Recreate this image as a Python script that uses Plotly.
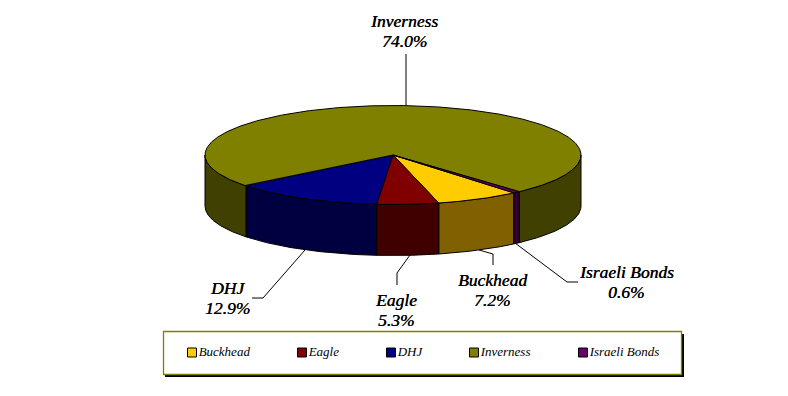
import math
import plotly.graph_objects as go

# Data
categories = ["Buckhead", "Eagle", "DHJ", "Inverness", "Israeli Bonds"]
shares = [7.2, 5.3, 12.9, 74.0, 0.6]
percent_labels = ["7.2%", "5.3%", "12.9%", "74.0%", "0.6%"]

# Styles
top_colors = ["#FFCC00", "#800000", "#000080", "#808000", "#660066"]
side_colors = ["#806000", "#400000", "#000040", "#404000", "#330033"]
FONT = "Liberation Serif"

# Pie geometry (pixel axes)
CX, CY, RX, RY, DEPTH = 393, 155, 188, 49.5, 51
START = 50.0  # degrees clockwise from 3 o'clock, on the ellipse


def pt(t, dy=0.0):
    a = math.radians(t)
    return CX + RX * math.cos(a), CY + RY * math.sin(a) + dy


def arc(t1, t2, dy=0.0):
    n = max(2, int(abs(t2 - t1)) * 2)
    return [pt(t1 + (t2 - t1) * i / n, dy) for i in range(n + 1)]


total = sum(shares)
spans = []
a = START
for s in shares:
    b = a + 360 * s / total
    spans.append((a, b))
    a = b

fig = go.Figure()


def poly(points, color, name):
    xs = [p[0] for p in points] + [points[0][0]]
    ys = [p[1] for p in points] + [points[0][1]]
    fig.add_trace(go.Scatter(x=xs, y=ys, mode="lines", fill="toself", fillcolor=color,
                             line=dict(color="black", width=1), name=name,
                             showlegend=False, hoverinfo="name"))


# Visible side walls: front half of the ellipse only (t in 0..180, or 360..540)
for cat, (a, b), col in zip(categories, spans, side_colors):
    for lo, hi in ((0, 180), (360, 540)):
        s, e = max(a, lo), min(b, hi)
        if e > s:
            poly(arc(s, e) + arc(e, s, DEPTH), col, cat + " side")

# Top faces
for cat, (a, b), col in zip(categories, spans, top_colors):
    poly([(CX, CY)] + arc(a, b), col, cat)

# Leader lines
leaders = [
    [(406, 54), (406, 105)],
    [(305, 250), (263, 298), (252, 298)],
    [(410, 255), (397, 273), (397, 285)],
    [(479, 250), (493, 254), (493, 265)],
    [(515, 243), (567, 282), (578, 282)],
]
for ln in leaders:
    fig.add_trace(go.Scatter(x=[p[0] for p in ln], y=[p[1] for p in ln], mode="lines",
                             line=dict(color="black", width=1), showlegend=False, hoverinfo="skip"))

# Slice labels
label_pos = {"Inverness": (404, 21), "DHJ": (227, 288), "Eagle": (396, 300),
             "Buckhead": (492, 280), "Israeli Bonds": (626, 272)}
label_font = dict(family=FONT, size=17.5, color="black", style="italic", shadow="0.4px 0 0 #000")
annotations = []
for cat, pct in zip(categories, percent_labels):
    x, y = label_pos[cat]
    for txt, yy in ((cat, y), (pct, y + 20)):
        annotations.append(dict(x=x, y=yy, xref="x", yref="y", showarrow=False,
                                text=txt, align="center", font=label_font))

# Legend box with shadow
shapes = [
    dict(type="rect", x0=165, y0=334, x1=684, y1=377, fillcolor="black", line=dict(width=0), layer="below"),
    dict(type="rect", x0=163.5, y0=331.5, x1=681.5, y1=374.5, fillcolor="white",
         line=dict(color="#808000", width=1.3), layer="below"),
]
legend_x = [192, 302, 391, 474, 583]
for cat, col, x in zip(categories, top_colors, legend_x):
    fig.add_trace(go.Scatter(x=[x], y=[352.5], mode="markers+text", text=[cat], textposition="middle right",
                             textfont=dict(family=FONT, size=13, color="black", style="italic"),
                             marker=dict(symbol="square", size=9, color=col, line=dict(color="black", width=1)),
                             showlegend=False, name=cat, hoverinfo="name"))

fig.update_layout(
    width=788, height=396, margin=dict(l=0, r=0, t=0, b=0),
    paper_bgcolor="white", plot_bgcolor="white", showlegend=False,
    xaxis=dict(range=[0, 788], visible=False, fixedrange=True),
    yaxis=dict(range=[396, 0], visible=False, fixedrange=True),
    annotations=annotations, shapes=shapes,
)
fig.write_html("out.html", post_script="document.body.style.margin='0';document.body.style.overflow='hidden';",
               config={"displayModeBar": False})
